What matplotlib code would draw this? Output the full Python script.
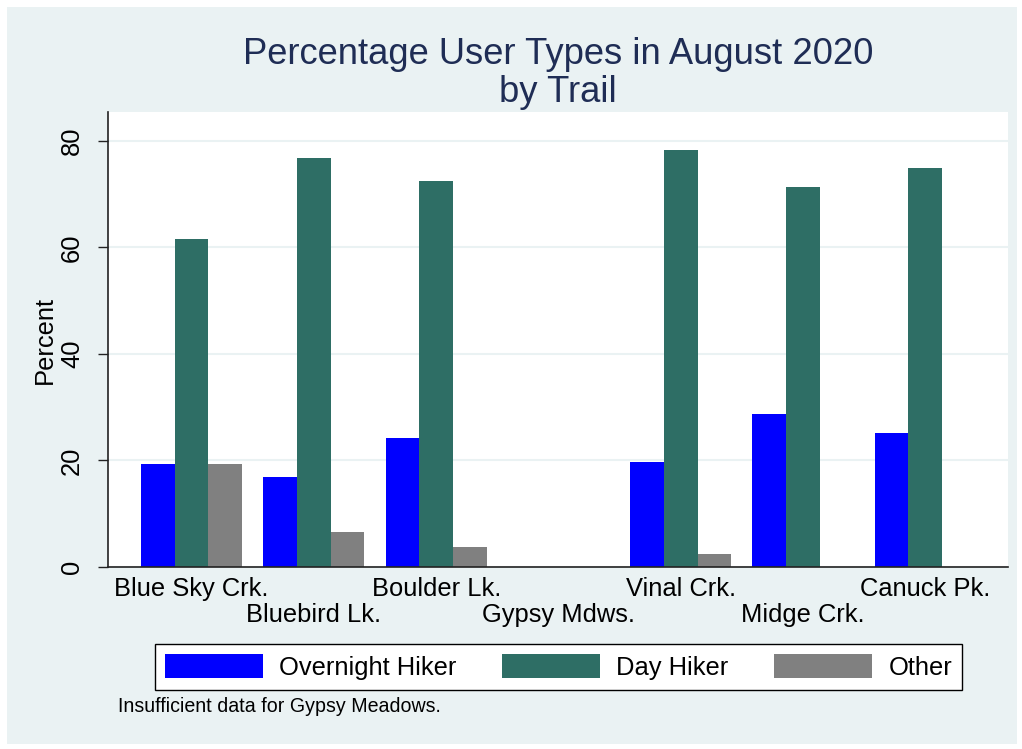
import matplotlib.pyplot as plt
import matplotlib.transforms as mtransforms
from matplotlib.patches import Rectangle
import numpy as np

plt.rcParams['font.family'] = ['Liberation Sans', 'DejaVu Sans']

# Data (percent of users per trail)
trails = ['Blue Sky Crk.', 'Bluebird Lk.', 'Boulder Lk.', 'Gypsy Mdws.',
          'Vinal Crk.', 'Midge Crk.', 'Canuck Pk.']
overnight = [19.3, 16.9, 24.2, np.nan, 19.7, 28.7, 25.2]
day = [61.6, 76.8, 72.5, np.nan, 78.3, 71.4, 74.9]
other = [19.3, 6.5, 3.7, np.nan, 2.4, 0.0, 0.0]
series_names = ['Overnight Hiker', 'Day Hiker', 'Other']
colors = ['#0000FF', '#2E6E65', '#808080']

W, H = 1022, 749
fig = plt.figure(figsize=(W / 100, H / 100), dpi=100)
fig.patch.set_facecolor('white')

# light outer panel (Stata s2color style)
bg = '#EAF2F3'
fig.patches.append(Rectangle((7 / W, 5 / H), 1010 / W, 737 / H,
                             transform=fig.transFigure, facecolor=bg,
                             edgecolor='none', zorder=-10))

ax = fig.add_axes([108 / W, (H - 567) / H, 900 / W, 455 / H])
ax.set_facecolor('white')

x = np.arange(len(trails))
bw = 0.2755
for k, (vals, c, name) in enumerate(zip([overnight, day, other], colors, series_names)):
    ax.bar(x + (k - 1) * bw, vals, width=bw, color=c, label=name, zorder=2)

ax.set_xlim(-0.683, 6.676)
ax.set_ylim(0, 85.4)
ax.set_yticks([0, 20, 40, 60, 80])
ax.set_yticklabels(['0', '20', '40', '60', '80'], rotation=90, va='center', fontsize=18.4)
ax.tick_params(axis='y', length=7.2, width=1.0, pad=10, color='#222222')
ax.set_xticks([])
ax.yaxis.grid(True, color=bg, linewidth=1.5, zorder=0)
ax.set_axisbelow(True)
for s in ['top', 'right']:
    ax.spines[s].set_visible(False)
for s in ['left', 'bottom']:
    ax.spines[s].set_color('#222222')
    ax.spines[s].set_linewidth(1.2)

# staggered category labels
trans = mtransforms.blended_transform_factory(ax.transData, ax.transAxes)
for i, t in enumerate(trails):
    yy = -0.0637 if i % 2 == 0 else -0.121
    ax.text(i, yy, t, transform=trans, ha='center', va='baseline', fontsize=18.4)

fig.text(45 / W, (H - 340) / H, 'Percent', rotation=90, ha='center', va='center', fontsize=18.4)

title_color = '#1F2D55'
fig.text(558 / W, (H - 55) / H, 'Percentage User Types in August 2020',
         ha='center', va='center', fontsize=26.2, color=title_color)
fig.text(558 / W, (H - 92) / H, 'by Trail',
         ha='center', va='center', fontsize=26.2, color=title_color)

leg = fig.legend(loc='center', bbox_to_anchor=(558.5 / W, (H - 667) / H), ncol=3,
                 fontsize=18.4, frameon=True, fancybox=False, framealpha=1,
                 handlelength=3.83, handleheight=1.05, handletextpad=0.63,
                 columnspacing=1.8, borderpad=0.4, borderaxespad=0)
leg.get_frame().set_edgecolor('black')
leg.get_frame().set_linewidth(1.0)
leg.get_frame().set_facecolor('white')

fig.text(118 / W, (H - 712) / H, 'Insufficient data for Gypsy Meadows.',
         ha='left', va='baseline', fontsize=14.1)

fig.savefig('out.png', dpi=100)
